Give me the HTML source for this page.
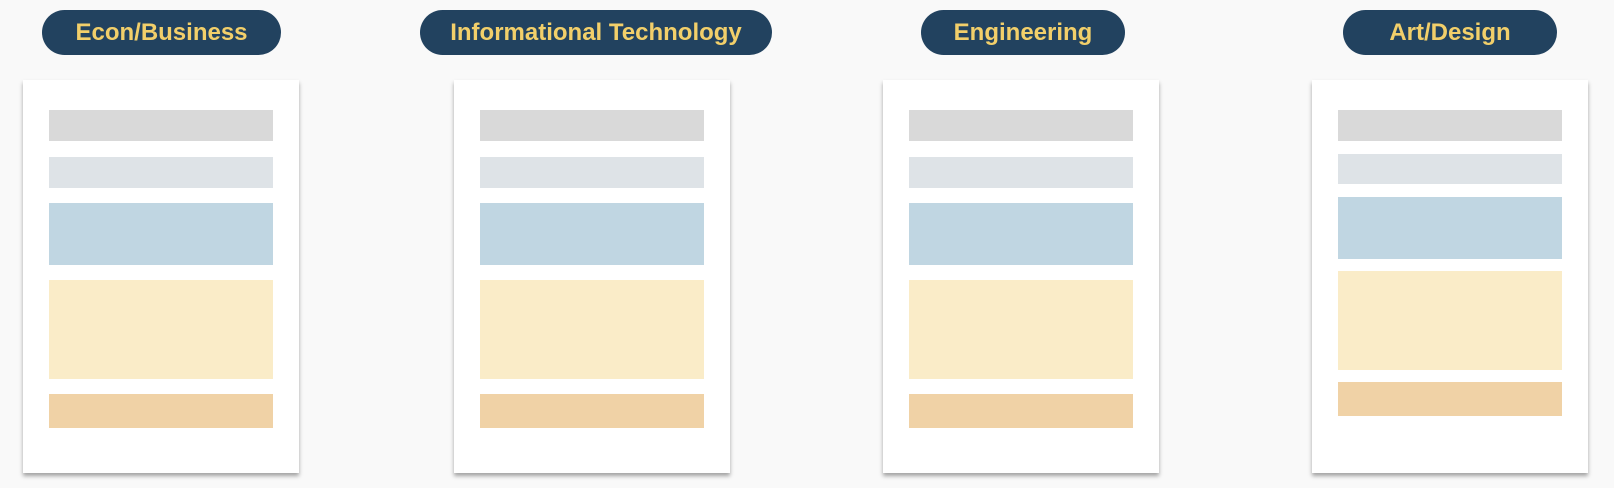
<!DOCTYPE html>
<html><head><style>
html,body{margin:0;padding:0;width:1614px;height:488px;background:#f9f9f9;overflow:hidden;position:relative;font-family:"Liberation Sans",sans-serif}
.pill{position:absolute;top:10px;height:45px;border-radius:23px;background:#22425f;color:#f2cf6a;font-weight:bold;font-size:24px;display:flex;align-items:center;justify-content:center;white-space:nowrap}
.card{position:absolute;top:80px;width:276px;height:393px;background:#fff;box-shadow:0 3px 4px rgba(0,0,0,.35)}
.b{position:absolute;left:26px;width:224px}
.g1{background:#d9d9d9}.g2{background:#dee3e7}.g3{background:#c0d6e2}.g4{background:#faecc8}.g5{background:#f0d2a6}
</style></head><body>
<div class="pill" style="left:42px;width:239px">Econ/Business</div>
<div class="pill" style="left:420px;width:352px">Informational Technology</div>
<div class="pill" style="left:921px;width:204px">Engineering</div>
<div class="pill" style="left:1343px;width:214px">Art/Design</div>

<div class="card" style="left:23px">
<div class="b g1" style="top:30px;height:31px"></div>
<div class="b g2" style="top:77px;height:31px"></div>
<div class="b g3" style="top:123px;height:62px"></div>
<div class="b g4" style="top:200px;height:99px"></div>
<div class="b g5" style="top:314px;height:34px"></div>
</div>
<div class="card" style="left:454px">
<div class="b g1" style="top:30px;height:31px"></div>
<div class="b g2" style="top:77px;height:31px"></div>
<div class="b g3" style="top:123px;height:62px"></div>
<div class="b g4" style="top:200px;height:99px"></div>
<div class="b g5" style="top:314px;height:34px"></div>
</div>
<div class="card" style="left:883px">
<div class="b g1" style="top:30px;height:31px"></div>
<div class="b g2" style="top:77px;height:31px"></div>
<div class="b g3" style="top:123px;height:62px"></div>
<div class="b g4" style="top:200px;height:99px"></div>
<div class="b g5" style="top:314px;height:34px"></div>
</div>
<div class="card" style="left:1312px">
<div class="b g1" style="top:30px;height:31px"></div>
<div class="b g2" style="top:74px;height:30px"></div>
<div class="b g3" style="top:117px;height:62px"></div>
<div class="b g4" style="top:191px;height:99px"></div>
<div class="b g5" style="top:302px;height:34px"></div>
</div>
</body></html>
